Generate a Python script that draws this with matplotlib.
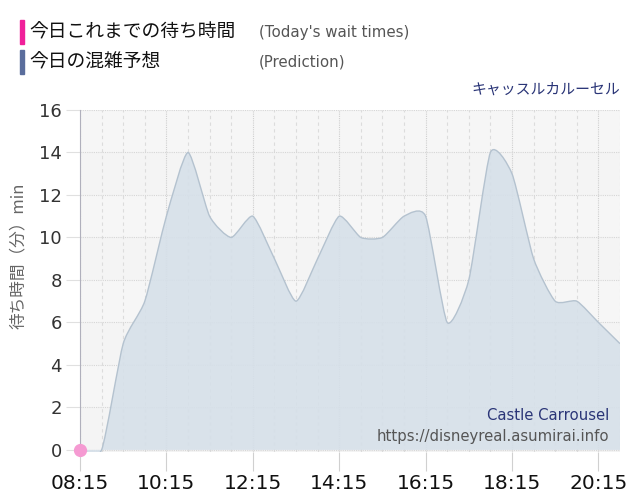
import matplotlib
matplotlib.use('Agg')
import matplotlib.pyplot as plt
from matplotlib.path import Path
from matplotlib.patches import PathPatch, Rectangle

plt.rcParams['font.family'] = ['DejaVu Sans', 'Noto Sans CJK JP']

# prediction, every 30 minutes
times = ['08:15', '08:45', '09:15', '09:45', '10:15', '10:45', '11:15', '11:45',
         '12:15', '12:45', '13:15', '13:45', '14:15', '14:45', '15:15', '15:45',
         '16:15', '16:45', '17:15', '17:45', '18:15', '18:45', '19:15', '19:45',
         '20:15', '20:45']
pred = [0, 0, 5, 7, 11, 14, 11, 10, 11, 9, 7, 9, 11, 10, 10, 11,
        11, 6, 8, 14, 13, 9, 7, 7, 6, 5]

# today's actual wait times
actual_times = ['08:15']
actual = [0]

tick_labels = ['08:15', '10:15', '12:15', '14:15', '16:15', '18:15', '20:15']


def to_min(t):
    h, m = t.split(':')
    return int(h) * 60 + int(m)


def smooth_path(xs, ys, k=0.2):
    # cubic bezier through the points, short handles so corners stay sharp
    n = len(xs)
    slopes = []
    for i in range(n):
        a = max(i - 1, 0)
        b = min(i + 1, n - 1)
        slopes.append((ys[b] - ys[a]) / (xs[b] - xs[a]))
    verts = [(xs[0], ys[0])]
    codes = [Path.MOVETO]
    for i in range(1, n):
        dx = xs[i] - xs[i - 1]
        verts += [(xs[i - 1] + k * dx, ys[i - 1] + slopes[i - 1] * k * dx),
                  (xs[i] - k * dx, ys[i] - slopes[i] * k * dx),
                  (xs[i], ys[i])]
        codes += [Path.CURVE4] * 3
    return verts, codes


x = [to_min(t) for t in times]
xa = [to_min(t) for t in actual_times]
ticks = [to_min(t) for t in tick_labels]

fig = plt.figure(figsize=(6.4, 5), dpi=100)
ax = fig.add_axes([0.125, 0.096, 0.84375, 0.684])
ax.set_xlim(x[0], x[-1])
ax.set_ylim(-0.1, 16)

ax.set_facecolor('#f4f4f4')
for y0 in range(0, 16, 4):
    ax.axhspan(y0 + 2, y0 + 4, color='#f6f6f6', lw=0, zorder=0)

for xv in range(x[0], x[-1] + 1, 30):
    if xv in ticks:
        ax.axvline(xv, color='#cfcfcf', lw=0.8, ls=(0, (1, 1)), zorder=1)
    else:
        ax.axvline(xv, color='#dcdcdc', lw=0.8, ls=(0, (3, 3)), zorder=1)
for yv in range(0, 17, 2):
    ax.axhline(yv, color='#d6d6d6', lw=0.8, ls=(0, (1, 1)), zorder=1)

verts, codes = smooth_path(x, pred)
fill_verts = verts + [(x[-1], 0), (x[0], 0), (x[0], pred[0])]
fill_codes = codes + [Path.LINETO, Path.LINETO, Path.CLOSEPOLY]
ax.add_patch(PathPatch(Path(fill_verts, fill_codes), facecolor='#d6e0e9',
                       edgecolor='none', alpha=0.9, zorder=2))
ax.add_patch(PathPatch(Path(verts, codes), facecolor='none',
                       edgecolor='#b4c2cf', lw=1.0, zorder=3))

ax.plot(xa, actual, 'o', color='#f59ad2', ms=8.5, zorder=5, clip_on=False)

ax.set_xticks(ticks)
ax.set_xticklabels(tick_labels, fontsize=14.5, color='#111111')
ax.set_yticks(range(0, 17, 2))
ax.tick_params(axis='y', length=10, color='#e0e0e0', labelsize=13, labelcolor='#333333', pad=3)
ax.tick_params(axis='x', length=14, color='#d0d0d0', pad=2)

for s in ['top', 'right', 'bottom']:
    ax.spines[s].set_visible(False)
ax.spines['left'].set_color('#b0b0bc')
ax.spines['left'].set_bounds(0, 16)

ax.set_ylabel('待ち時間（分）min', fontsize=12, color='#666666',
              family=['Noto Sans CJK JP', 'DejaVu Sans'])
ax.yaxis.set_label_coords(-0.098, 0.573)

ax.text(0.98, 0.107, 'Castle Carrousel', transform=ax.transAxes, ha='right',
        va='center', fontsize=10.7, color='#2a3577')
ax.text(0.98, 0.045, 'https://disneyreal.asumirai.info', transform=ax.transAxes,
        ha='right', va='center', fontsize=10.7, color='#555555')

# legend
fig.add_artist(Rectangle((20 / 640, 1 - 44 / 500), 4 / 640, 24 / 500,
                         transform=fig.transFigure, color='#f0209a'))
fig.add_artist(Rectangle((20 / 640, 1 - 74 / 500), 4 / 640, 24 / 500,
                         transform=fig.transFigure, color='#5a6d9c'))
fig.text(29 / 640, 1 - 32 / 500, '今日これまでの待ち時間', fontsize=13.5, va='center',
         family=['Noto Sans CJK JP', 'DejaVu Sans'], color='#111111')
fig.text(29 / 640, 1 - 62 / 500, '今日の混雑予想', fontsize=13.5, va='center',
         family=['Noto Sans CJK JP', 'DejaVu Sans'], color='#111111')
fig.text(259 / 640, 1 - 32 / 500, "(Today's wait times)", fontsize=10.8,
         va='center', color='#555555')
fig.text(259 / 640, 1 - 62 / 500, '(Prediction)', fontsize=10.8,
         va='center', color='#555555')
fig.text(620 / 640, 1 - 90 / 500, 'キャッスルカルーセル', fontsize=10.7, ha='right',
         va='center', family=['Noto Sans CJK JP', 'DejaVu Sans'], color='#2a3577')

fig.savefig('out.png', dpi=100)
